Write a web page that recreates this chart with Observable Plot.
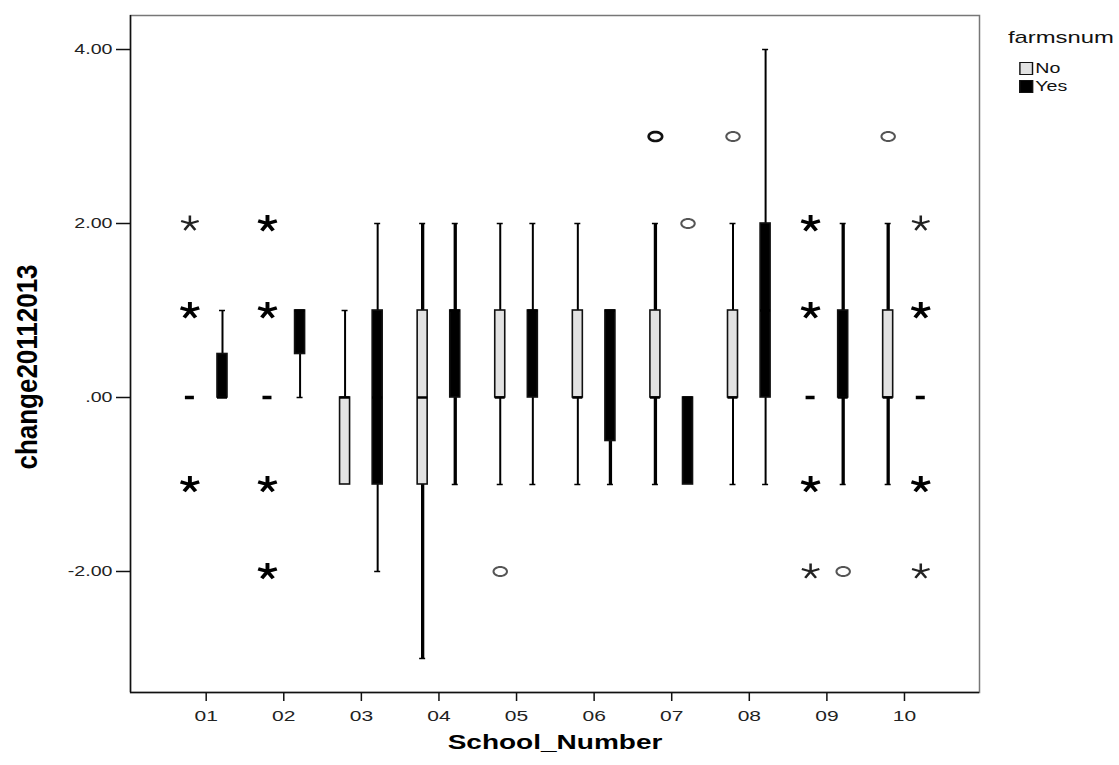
<!DOCTYPE html>
<html><head><meta charset="utf-8">
<script src="https://cdn.jsdelivr.net/npm/d3@7"></script>
<script src="https://cdn.jsdelivr.net/npm/@observablehq/plot@0.6"></script>
<style>
body{margin:0;background:#fff;font-family:"Liberation Sans",Arial,sans-serif;}
#wrap{position:relative;width:1119px;height:765px;overflow:hidden;}
#legend{position:absolute;left:1008px;top:27px;color:#111;transform:scaleX(1.4);transform-origin:0 0;}
#legend .title{font-size:17px;line-height:22px;margin-bottom:10px;}
#legend .item{font-size:14px;line-height:18px;margin-left:8px;display:flex;align-items:center;}
#legend .sw{display:inline-block;width:9.5px;height:13px;border:1.5px solid #111;margin-right:2px;box-sizing:border-box;}
</style></head><body>
<div id="wrap"><div id="chart"></div><div id="legend"></div></div>
<script>
// ---- data ----
const schools = ["01","02","03","04","05","06","07","08","09","10"];
const groups = ["No","Yes"];
const groupFill = ["#e2e2e2","#000000"];

const q1No  = [0, 0, -1, -1, 0, 0, 0, 0, 0, 0];
const medNo = [0, 0,  0,  0, 0, 0, 0, 0, 0, 0];
const q3No  = [0, 0,  0,  1, 1, 1, 1, 1, 0, 1];
const loNo  = [0, 0, -1, -3, -1, -1, -1, -1, 0, -1];
const hiNo  = [0, 0,  1,  2, 2, 2, 2, 2, 0, 2];

const q1Yes  = [0, 0.5, -1, 0, 0, -0.5, -1, 0, 0, 0];
const medYes = [0, 1,    0, 1, 1,  1,    0, 1, 0, 0];
const q3Yes  = [0.5, 1,  1, 1, 1,  1,    0, 2, 1, 0];
const loYes  = [0, 0,   -2, -1, -1, -1, -1, -1, -1, 0];
const hiYes  = [1, 1,    2, 2, 2,  1,    0, 4, 2, 0];

// outliers (circles)
const outSchool = ["05","07","07","08","09","10"];
const outGroup  = ["No","No","Yes","No","Yes","No"];
const outValue  = [-2, 3, 2, 3, -2, 3];
const outHeavy  = [0, 1, 0, 0, 0, 0];

// extremes (stars)
const extSchool = ["01","01","01","02","02","02","02","09","09","09","09","10","10","10","10"];
const extGroup  = ["No","No","No","No","No","No","No","No","No","No","No","Yes","Yes","Yes","Yes"];
const extValue  = [2, 1, -1, 2, 1, -1, -2, 2, 1, -1, -2, 2, 1, -1, -2];
const extHeavy  = [0, 1, 1, 1, 1, 1, 1, 1, 1, 1, 0, 0, 1, 1, 0];

// heavy (overplotted) whiskers, by school index
const heavyWhiskerNo  = [0, 0, 0, 1, 0, 0, 1, 0, 0, 1];
const heavyWhiskerYes = [0, 0, 0, 1, 0, 1, 0, 0, 1, 0];

const yTicks = [-2, 0, 2, 4];

// ---- build tables ----
const boxes = schools.flatMap((s, i) => [
  {school: s, group: "No", q1: q1No[i], med: medNo[i], q3: q3No[i], lo: loNo[i], hi: hiNo[i], heavy: heavyWhiskerNo[i]},
  {school: s, group: "Yes", q1: q1Yes[i], med: medYes[i], q3: q3Yes[i], lo: loYes[i], hi: hiYes[i], heavy: heavyWhiskerYes[i]}
]);
const outliers = outValue.map((v, i) => ({school: outSchool[i], group: outGroup[i], value: v, heavy: outHeavy[i]}));
const extremes = extValue.map((v, i) => ({school: extSchool[i], group: extGroup[i], value: v, heavy: extHeavy[i]}));

// ---- geometry (in x units: one school = 1) ----
const STEP = 77.59;
const OFF = 16.3 / STEP, BW = 5 / STEP, CW = 3 / STEP, DW = 4.5 / STEP;
const pos = d => schools.indexOf(d.school) + 1 + (d.group === "No" ? -OFF : OFF);

function starSymbol(w) {
  return {draw(ctx, size) {
    const r = Math.sqrt(size / Math.PI), sx = 1.15;
    for (let k = 0; k < 5; k++) {
      const a = -Math.PI / 2 + k * 2 * Math.PI / 5;
      const ux = Math.cos(a), uy = Math.sin(a), px = -uy, py = ux;
      const h = w / 2;
      ctx.moveTo(sx * (px * h), py * h);
      ctx.lineTo(sx * (ux * r + px * h), uy * r + py * h);
      ctx.lineTo(sx * (ux * r - px * h), uy * r - py * h);
      ctx.lineTo(sx * (-px * h), -py * h);
      ctx.closePath();
    }
  }};
}
const ellipseSymbol = {draw(ctx, size) {
  const r = Math.sqrt(size / Math.PI), rx = r * 1.2, ry = r * 0.8, n = 32;
  for (let k = 0; k <= n; k++) {
    const t = k / n * 2 * Math.PI;
    const x = rx * Math.cos(t), y = ry * Math.sin(t);
    if (k === 0) ctx.moveTo(x, y); else ctx.lineTo(x, y);
  }
  ctx.closePath();
}};

const xDomain = [0.0244, 10.967];
const yDomain = [-3.391, 4.391];
const fmtY = d => d === 0 ? ".00" : d3.format(".2f")(d).replace("\u2212", "-");
const wW = d => d.heavy ? 3.3 : 2;

const chart = Plot.plot({
  width: 1000, height: 765,
  marginLeft: 130, marginRight: 21, marginTop: 15, marginBottom: 73,
  x: {domain: xDomain},
  y: {domain: yDomain},
  style: {fontFamily: "'Liberation Sans', Arial, sans-serif", color: "#222"},
  marks: [
    Plot.frame({stroke: "#777", strokeWidth: 1.5}),
    Plot.ruleX([xDomain[0]], {stroke: "#111", strokeWidth: 1.5}),
    Plot.ruleY([yDomain[0]], {stroke: "#111", strokeWidth: 1.5}),
    Plot.axisX({ticks: d3.range(1, 11), tickFormat: i => schools[i - 1], tickSize: 9, tickPadding: 9, fontSize: 15, label: null, stroke: "#111", strokeWidth: 1.5}),
    Plot.axisY({ticks: yTicks, tickFormat: fmtY, tickSize: 14, tickPadding: 4, fontSize: 14, label: null, stroke: "#111", strokeWidth: 1.5}),
    // whiskers
    Plot.ruleX(boxes.filter(d => d.hi > d.q3), {x: pos, y1: "q3", y2: "hi", stroke: "#000", strokeWidth: wW}),
    Plot.ruleX(boxes.filter(d => d.lo < d.q1), {x: pos, y1: "lo", y2: "q1", stroke: "#000", strokeWidth: wW}),
    Plot.ruleY(boxes.filter(d => d.hi > d.q3), {y: "hi", x1: d => pos(d) - CW, x2: d => pos(d) + CW, stroke: "#000", strokeWidth: 1.5}),
    Plot.ruleY(boxes.filter(d => d.lo < d.q1), {y: "lo", x1: d => pos(d) - CW, x2: d => pos(d) + CW, stroke: "#000", strokeWidth: 1.5}),
    // boxes
    Plot.rect(boxes.filter(d => d.q3 > d.q1), {x1: d => pos(d) - BW, x2: d => pos(d) + BW, y1: "q1", y2: "q3",
      fill: d => groupFill[groups.indexOf(d.group)], stroke: "#111", strokeWidth: 1.6}),
    // medians
    Plot.ruleY(boxes.filter(d => d.q3 > d.q1), {y: "med", x1: d => pos(d) - BW, x2: d => pos(d) + BW, stroke: "#000", strokeWidth: 2.5}),
    Plot.ruleY(boxes.filter(d => d.q3 === d.q1), {y: "med", x1: d => pos(d) - DW, x2: d => pos(d) + DW, stroke: "#000", strokeWidth: 3.5}),
    // outliers
    Plot.dot(outliers, {x: pos, y: "value", r: 5.6, symbol: ellipseSymbol, fill: "none", stroke: d => d.heavy ? "#111" : "#555", strokeWidth: d => d.heavy ? 2.7 : 2}),
    // extremes
    Plot.dot(extremes.filter(d => d.heavy), {x: pos, y: "value", r: 8.5, symbol: starSymbol(3.4), fill: "#000", stroke: "none"}),
    Plot.dot(extremes.filter(d => !d.heavy), {x: pos, y: "value", r: 8, symbol: starSymbol(2.2), fill: "#222", stroke: "none"}),
    // axis titles
    Plot.text(["School_Number"], {frameAnchor: "bottom", dy: 56, text: d => d, fontSize: 20, fontWeight: "bold", fill: "#000"}),
    Plot.text(["change20112013"], {frameAnchor: "left", rotate: -90, text: d => d, fontSize: 26, fontWeight: "bold", fill: "#000"})
  ]
});
document.getElementById("chart").appendChild(chart);

// horizontal stretch of the original picture: widen horizontal texts
const SX = 1.4;
const svgBox = chart.getBoundingClientRect();
chart.querySelectorAll("text").forEach(t => {
  if (t.textContent === "change20112013") {
    const tr = t.getAttribute("transform") || "";
    t.setAttribute("transform", tr + " scale(1,1.15)");
    // move its centre to the target point
    const b = t.getBoundingClientRect();
    const cx = b.left + b.width / 2 - svgBox.left, cy = b.top + b.height / 2 - svgBox.top;
    t.setAttribute("transform", `translate(${27 - cx},${367 - cy}) ` + t.getAttribute("transform"));
  } else {
    const L = t.getComputedTextLength();
    t.setAttribute("textLength", L * SX);
    t.setAttribute("lengthAdjust", "spacingAndGlyphs");
  }
});

// legend
const legend = document.getElementById("legend");
legend.innerHTML = '<div class="title">farmsnum</div>' + groups.map((g, i) =>
  `<div class="item"><span class="sw" style="background:${groupFill[i]}"></span><span>${g}</span></div>`).join("");
</script>
</body></html>
